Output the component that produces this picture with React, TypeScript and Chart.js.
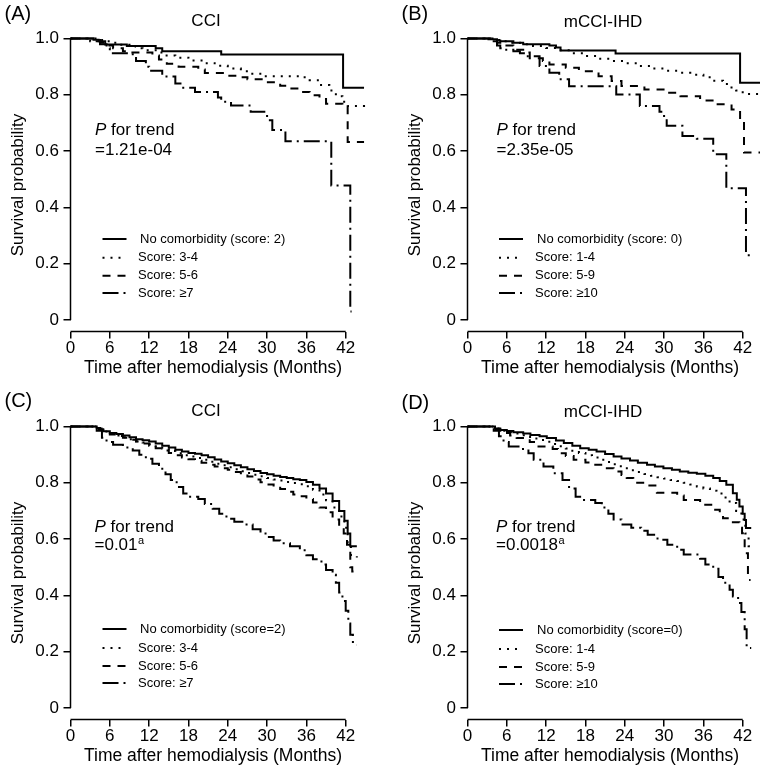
import React, { useEffect, useRef } from "react";
import { Chart, registerables } from "chart.js";

Chart.register(...registerables);

type Pt = [number, number];

// ---------- shared axis content ----------
const X_TICKS = [0, 6, 12, 18, 24, 30, 36, 42];
const Y_TICKS = [0, 0.2, 0.4, 0.6, 0.8, 1.0];
const X_TITLE = "Time after hemodialysis (Months)";
const Y_TITLE = "Survival probability";
const X_MAX = 43.5;

// ---------- Panel A: CCI ----------
const A_LABELS = ["No comorbidity (score: 2)", "Score: 3-4", "Score: 5-6", "Score: \u22657"];
const A_NONE: Pt[] = [[0, 1], [3.5, 0.996], [4.3, 0.99], [5.3, 0.979], [8.6, 0.973], [13, 0.965], [14, 0.955], [23, 0.943], [41.6, 0.825], [44.8, 0.825]];
const A_S34: Pt[] = [[0, 1], [4, 0.995], [5, 0.99], [6, 0.985], [7, 0.978], [9, 0.972], [10, 0.965], [11, 0.958], [13, 0.95], [14.5, 0.94], [16, 0.932], [18, 0.922], [20, 0.912], [22, 0.903], [24, 0.893], [26, 0.884], [27.5, 0.875], [29.5, 0.866], [35, 0.862], [36.5, 0.852], [38, 0.835], [39.5, 0.815], [40.5, 0.795], [41.5, 0.775], [42.3, 0.76], [44.8, 0.752]];
const A_S56: Pt[] = [[0, 1], [3.5, 0.995], [4.5, 0.985], [5.5, 0.975], [6.5, 0.965], [8, 0.955], [9, 0.95], [12.5, 0.94], [13.5, 0.925], [14.7, 0.91], [16.5, 0.9], [19.5, 0.89], [20.5, 0.877], [23.5, 0.868], [26, 0.862], [27, 0.855], [29.5, 0.845], [32, 0.832], [33.5, 0.822], [35.5, 0.81], [36.5, 0.798], [38, 0.785], [39, 0.768], [41.5, 0.757], [42.3, 0.632], [44.8, 0.632]];
const A_S7: Pt[] = [[0, 1], [3, 0.99], [4.5, 0.98], [5.5, 0.965], [6, 0.948], [9.5, 0.935], [10, 0.92], [11.5, 0.9], [12, 0.885], [14, 0.865], [16, 0.84], [17, 0.825], [19, 0.81], [22.5, 0.79], [23, 0.775], [24.5, 0.762], [27.5, 0.74], [30, 0.71], [30.8, 0.675], [32.8, 0.635], [39.8, 0.478], [42.7, 0.03], [42.9, 0.03]];

// ---------- Panel B: mCCI-IHD ----------
const B_LABELS = ["No comorbidity (score: 0)", "Score: 1-4", "Score: 5-9", "Score: \u226510"];
const B_NONE: Pt[] = [[0, 1], [3.2, 0.997], [4.5, 0.993], [5, 0.99], [7, 0.985], [8.5, 0.98], [12.5, 0.975], [13.5, 0.968], [14.2, 0.957], [22.6, 0.947], [41.6, 0.843], [44.8, 0.843]];
const B_S14: Pt[] = [[0, 1], [4, 0.995], [5, 0.99], [6.5, 0.985], [8, 0.98], [10, 0.973], [12, 0.966], [14, 0.958], [16, 0.948], [18, 0.938], [20, 0.928], [22, 0.92], [24, 0.912], [26, 0.902], [28, 0.893], [30, 0.885], [32, 0.878], [34, 0.871], [36, 0.862], [37.5, 0.85], [39, 0.838], [40, 0.826], [41, 0.815], [42, 0.803], [44.8, 0.8]];
const B_S59: Pt[] = [[0, 1], [3.5, 0.995], [4.5, 0.985], [5.5, 0.975], [7, 0.96], [8.5, 0.95], [9.5, 0.93], [11.5, 0.92], [12.5, 0.908], [15, 0.896], [17, 0.884], [20, 0.866], [22, 0.849], [23.5, 0.831], [27, 0.819], [30.5, 0.807], [32.5, 0.795], [35.5, 0.78], [38, 0.766], [40.3, 0.748], [41.6, 0.707], [42.2, 0.595], [44.8, 0.595]];
const B_S10: Pt[] = [[0, 1], [3.5, 0.99], [4.5, 0.975], [5, 0.965], [5.5, 0.96], [7, 0.955], [8, 0.948], [9, 0.937], [11, 0.902], [12.5, 0.878], [14, 0.855], [15.5, 0.83], [22.7, 0.801], [26.3, 0.76], [29.3, 0.74], [30, 0.72], [30.4, 0.69], [32.8, 0.654], [35, 0.644], [37.5, 0.589], [39.5, 0.468], [42.5, 0.23], [43.6, 0.23]];

// ---------- Panel C: CCI ----------
const C_LABELS = ["No comorbidity (score=2)", "Score: 3-4", "Score: 5-6", "Score: \u22657"];
const C_NONE: Pt[] = [[0, 1], [3.4, 1], [4, 0.995], [4.5, 0.988], [5, 0.983], [6, 0.977], [7, 0.973], [8, 0.968], [9, 0.962], [10, 0.955], [11, 0.951], [12, 0.947], [13, 0.94], [14, 0.932], [15, 0.925], [16, 0.917], [17, 0.911], [18, 0.906], [19, 0.903], [20, 0.898], [21, 0.891], [22, 0.883], [23, 0.876], [24, 0.869], [25, 0.862], [26, 0.855], [27, 0.848], [28, 0.842], [29, 0.835], [30, 0.83], [31, 0.825], [32, 0.821], [33, 0.817], [34, 0.813], [35, 0.81], [36, 0.803], [37, 0.793], [38, 0.78], [39, 0.762], [40, 0.735], [41, 0.7], [41.8, 0.665], [42.3, 0.62], [42.7, 0.575], [43.7, 0.575]];
const C_S34: Pt[] = [[0, 1], [3.5, 1], [4, 0.993], [5, 0.982], [6, 0.975], [7, 0.968], [8, 0.962], [9, 0.955], [10, 0.948], [11, 0.943], [12, 0.937], [13, 0.93], [14, 0.922], [15, 0.913], [16, 0.905], [17, 0.898], [18, 0.893], [19, 0.888], [20, 0.882], [21, 0.875], [22, 0.868], [23, 0.862], [24, 0.855], [25, 0.848], [26, 0.841], [27, 0.835], [28, 0.829], [29, 0.823], [30, 0.817], [31, 0.812], [32, 0.808], [33, 0.803], [34, 0.799], [35, 0.795], [36, 0.788], [37, 0.775], [38, 0.758], [39, 0.738], [40, 0.712], [41, 0.68], [41.8, 0.64], [42.3, 0.58], [42.8, 0.54], [43.7, 0.535]];
const C_S56: Pt[] = [[0, 1], [3.5, 1], [4, 0.99], [5, 0.98], [6, 0.972], [7, 0.966], [8, 0.96], [9, 0.953], [10, 0.947], [11, 0.94], [12, 0.932], [13, 0.923], [14, 0.915], [15, 0.906], [16, 0.898], [17, 0.89], [18, 0.884], [19, 0.878], [20, 0.871], [21, 0.864], [22, 0.858], [23, 0.852], [24, 0.846], [25, 0.838], [26, 0.83], [27, 0.822], [28, 0.812], [29, 0.802], [30, 0.794], [31, 0.786], [32, 0.778], [33, 0.768], [34, 0.758], [35, 0.752], [36, 0.742], [37, 0.73], [38, 0.712], [39, 0.695], [40, 0.67], [41, 0.64], [41.7, 0.62], [42.2, 0.58], [42.7, 0.5], [43, 0.485], [43.7, 0.485]];
const C_S7: Pt[] = [[0, 1], [3.4, 1], [4, 0.985], [4.8, 0.96], [5.5, 0.945], [6.5, 0.935], [8, 0.925], [9.5, 0.915], [10.5, 0.9], [11.5, 0.885], [12.5, 0.868], [13.5, 0.85], [14.5, 0.83], [15.3, 0.81], [16.2, 0.785], [17.2, 0.762], [18, 0.75], [19.5, 0.742], [20.5, 0.725], [21.7, 0.708], [22.7, 0.69], [23.8, 0.672], [25, 0.662], [26.5, 0.652], [27.8, 0.635], [29, 0.62], [30, 0.607], [31, 0.595], [32, 0.585], [33.5, 0.575], [35, 0.56], [36, 0.543], [37, 0.528], [38.3, 0.51], [39, 0.49], [40, 0.473], [40.5, 0.445], [41, 0.41], [41.5, 0.38], [42, 0.345], [42.4, 0.3], [42.7, 0.26], [43.1, 0.224], [43.6, 0.224]];

// ---------- Panel D: mCCI-IHD ----------
const D_LABELS = ["No comorbidity (score=0)", "Score: 1-4", "Score: 5-9", "Score: \u226510"];
const D_NONE: Pt[] = [[0, 1], [3.5, 1], [4.2, 0.993], [5, 0.988], [6, 0.984], [7, 0.98], [8.5, 0.975], [9.6, 0.97], [11, 0.965], [12.1, 0.959], [13.5, 0.95], [14.7, 0.941], [16, 0.932], [17.2, 0.923], [18.5, 0.917], [19.7, 0.911], [21, 0.902], [22.3, 0.893], [23.5, 0.886], [24.8, 0.879], [26, 0.871], [27.4, 0.864], [28.6, 0.858], [29.9, 0.852], [31.2, 0.846], [32.4, 0.84], [33.7, 0.836], [35, 0.832], [36.3, 0.825], [37.5, 0.817], [38.5, 0.806], [39.5, 0.793], [40.5, 0.763], [41.1, 0.74], [41.5, 0.716], [42, 0.69], [42.3, 0.668], [42.5, 0.639], [43.3, 0.639]];
const D_S14: Pt[] = [[0, 1], [3.5, 1], [4, 0.993], [5, 0.985], [6, 0.98], [7, 0.975], [8, 0.969], [9, 0.963], [10, 0.957], [11, 0.952], [12, 0.946], [13, 0.938], [14, 0.93], [15, 0.922], [16, 0.914], [17, 0.906], [18, 0.898], [19, 0.89], [20, 0.882], [21, 0.874], [22, 0.866], [23, 0.859], [24, 0.852], [25, 0.845], [26, 0.838], [27, 0.831], [28, 0.825], [29, 0.82], [30, 0.815], [31, 0.81], [32, 0.806], [33, 0.8], [34, 0.794], [35, 0.787], [36, 0.78], [37, 0.772], [38, 0.762], [39, 0.748], [40, 0.728], [41, 0.7], [41.8, 0.67], [42.4, 0.62], [42.9, 0.575], [43.3, 0.575]];
const D_S59: Pt[] = [[0, 1], [3.5, 1], [4, 0.99], [5, 0.977], [6.5, 0.968], [7.5, 0.959], [9.5, 0.945], [10.5, 0.929], [13, 0.92], [13.8, 0.905], [15, 0.895], [16.2, 0.882], [18, 0.872], [19.5, 0.864], [21, 0.852], [22.3, 0.84], [23.5, 0.828], [24.3, 0.817], [25.3, 0.8], [27.5, 0.79], [28.9, 0.765], [32, 0.755], [33, 0.739], [35.5, 0.722], [37.5, 0.704], [38.5, 0.69], [39, 0.674], [40.5, 0.66], [41.5, 0.64], [41.9, 0.621], [42.3, 0.55], [42.8, 0.455], [43.2, 0.455]];
const D_S10: Pt[] = [[0, 1], [3.5, 1], [4, 0.985], [4.8, 0.965], [5.5, 0.945], [6.3, 0.929], [8, 0.92], [9.3, 0.905], [10.1, 0.882], [11.6, 0.858], [13.1, 0.834], [14.5, 0.81], [15.5, 0.78], [16.5, 0.75], [17.5, 0.739], [19.5, 0.728], [20.5, 0.712], [21.5, 0.69], [22.3, 0.67], [23.5, 0.652], [25, 0.64], [26.5, 0.63], [27.5, 0.615], [29, 0.598], [30.5, 0.58], [32, 0.562], [33, 0.545], [35.5, 0.53], [36.3, 0.51], [37.5, 0.495], [38.3, 0.465], [39, 0.445], [40, 0.42], [40.5, 0.396], [41.3, 0.373], [41.8, 0.341], [42.3, 0.28], [42.6, 0.213], [43.3, 0.213]];

// ---------- styling ----------
const FONT = "'Liberation Sans', Arial, Helvetica, sans-serif";
const DASHES: number[][] = [[], [2, 6], [8, 7], [16, 5, 2, 5]];
const CANVAS_W = 397;
const CANVAS_H = 388;

interface PanelDef {
  letter: string;
  title: string;
  pValue: string;
  pSup: string;
  labels: string[];
  series: Pt[][];
  left: number;
  top: number;
  pX: number;
  pY1: number;
  pY2: number;
  titleY: number;
  letterY: number;
  legendY: number[];
  legendX: number;
}

const PANELS: PanelDef[] = [
  { letter: "(A)", title: "CCI", pValue: "=1.21e-04", pSup: "", labels: A_LABELS, series: [A_NONE, A_S34, A_S56, A_S7], left: 0, top: 0, pX: 95, pY1: 135, pY2: 155, titleY: 21.5, letterY: 14.5, legendY: [239, 257.7, 275.7, 293], legendX: 102.5 },
  { letter: "(B)", title: "mCCI-IHD", pValue: "=2.35e-05", pSup: "", labels: B_LABELS, series: [B_NONE, B_S14, B_S59, B_S10], left: 397, top: 0, pX: 99.5, pY1: 135, pY2: 155, titleY: 22, letterY: 14, legendY: [239, 257.7, 275.7, 293], legendX: 102 },
  { letter: "(C)", title: "CCI", pValue: "=0.01", pSup: "a", labels: C_LABELS, series: [C_NONE, C_S34, C_S56, C_S7], left: 0, top: 388, pX: 94.5, pY1: 143.7, pY2: 162, titleY: 23.5, letterY: 13, legendY: [241, 260, 278, 295], legendX: 102.5 },
  { letter: "(D)", title: "mCCI-IHD", pValue: "=0.0018", pSup: "a", labels: D_LABELS, series: [D_NONE, D_S14, D_S59, D_S10], left: 397, top: 388, pX: 99, pY1: 143.7, pY2: 162, titleY: 24, letterY: 15, legendY: [242, 261, 279, 296], legendX: 102 },
];

function makeDecorPlugin(p: PanelDef) {
  return {
    id: "panelDecor",
    afterDraw(chart: any) {
      const { ctx, chartArea } = chart;
      const xs = chart.scales.x;
      const ys = chart.scales.y;
      ctx.save();
      // axis lines spanning the first to last tick (R style)
      ctx.strokeStyle = "#000";
      ctx.lineWidth = 1.5;
      ctx.setLineDash([]);
      ctx.beginPath();
      ctx.moveTo(xs.getPixelForValue(X_TICKS[0]), chartArea.bottom);
      ctx.lineTo(xs.getPixelForValue(X_TICKS[X_TICKS.length - 1]), chartArea.bottom);
      ctx.moveTo(chartArea.left, ys.getPixelForValue(Y_TICKS[0]));
      ctx.lineTo(chartArea.left, ys.getPixelForValue(Y_TICKS[Y_TICKS.length - 1]));
      ctx.stroke();

      ctx.fillStyle = "#000";
      // panel letter
      ctx.font = `20px ${FONT}`;
      ctx.textAlign = "left";
      ctx.textBaseline = "middle";
      ctx.fillText(p.letter, 4.5, p.letterY);
      // title
      ctx.font = `17px ${FONT}`;
      ctx.textAlign = "center";
      ctx.fillText(p.title, 206, p.titleY);

      // P for trend
      ctx.textAlign = "left";
      ctx.textBaseline = "alphabetic";
      ctx.font = `italic 17px ${FONT}`;
      ctx.fillText("P", p.pX, p.pY1);
      const pw = ctx.measureText("P").width;
      ctx.font = `17px ${FONT}`;
      ctx.fillText(" for trend", p.pX + pw, p.pY1);
      ctx.fillText(p.pValue, p.pX, p.pY2);
      if (p.pSup) {
        const vw = ctx.measureText(p.pValue).width;
        ctx.font = `11px ${FONT}`;
        ctx.fillText(p.pSup, p.pX + vw + 0.5, p.pY2 - 6.5);
      }

      // legend
      const ds = chart.data.datasets;
      for (let i = 0; i < ds.length; i++) {
        const yy = p.legendY[i];
        ctx.beginPath();
        ctx.lineWidth = 2;
        ctx.setLineDash(ds[i].borderDash || []);
        ctx.moveTo(p.legendX, yy);
        ctx.lineTo(p.legendX + 24, yy);
        ctx.stroke();
        ctx.setLineDash([]);
        ctx.font = `13px ${FONT}`;
        ctx.textBaseline = "middle";
        ctx.fillText(ds[i].label, i === 0 ? 140 : 138, yy);
      }
      ctx.restore();
    },
  };
}

function Panel({ def }: { def: PanelDef }) {
  const ref = useRef<HTMLCanvasElement | null>(null);
  useEffect(() => {
    if (!ref.current) return;
    const tickFont = { family: FONT, size: 17, lineHeight: 1 };
    // 42 months span 275.2px starting at x=70.5
    const pxPerMonth = 275.2 / 42;
    const rightPad = CANVAS_W - (70.5 + X_MAX * pxPerMonth);
    const chart = new Chart(ref.current, {
      type: "line",
      data: {
        datasets: def.series.map((s, i) => ({
          label: def.labels[i],
          data: s.map(([x, y]) => ({ x, y })),
          borderColor: "#000",
          backgroundColor: "#000",
          borderWidth: 2,
          borderDash: DASHES[i],
          borderCapStyle: "butt",
          stepped: "before",
          pointRadius: 0,
          fill: false,
          tension: 0,
          clip: false,
        })),
      } as any,
      options: {
        animation: false,
        responsive: false,
        devicePixelRatio: 1,
        events: [],
        layout: { padding: { left: 0, right: rightPad, top: 38.5, bottom: 6.5 } },
        plugins: {
          legend: { display: false },
          tooltip: { enabled: false },
          title: { display: false },
        },
        scales: {
          x: {
            type: "linear",
            min: 0,
            max: X_MAX,
            afterBuildTicks: (s: any) => {
              s.ticks = X_TICKS.map((v) => ({ value: v }));
            },
            afterFit: (s: any) => {
              s.height = 50;
            },
            grid: { display: true, drawOnChartArea: false, drawTicks: true, tickLength: 7, color: "#000", lineWidth: 1.5 },
            border: { display: false },
            ticks: {
              color: "#000",
              font: tickFont,
              padding: 1.5,
              maxRotation: 0,
              autoSkip: false,
              callback: (v: any) => String(v),
            },
            title: {
              display: true,
              text: X_TITLE,
              color: "#000",
              font: { family: FONT, size: 17.5, lineHeight: 1.2 },
              padding: { top: 0, bottom: 2.5 },
            },
          },
          y: {
            type: "linear",
            min: -0.0409,
            max: 1,
            afterBuildTicks: (s: any) => {
              s.ticks = Y_TICKS.map((v) => ({ value: v }));
            },
            afterFit: (s: any) => {
              s.width = 70.5;
            },
            grid: { display: true, drawOnChartArea: false, drawTicks: true, tickLength: 7, color: "#000", lineWidth: 1.5 },
            border: { display: false },
            ticks: {
              color: "#000",
              font: tickFont,
              padding: 4.5,
              autoSkip: false,
              callback: (v: any) => (Number(v) === 0 ? "0" : Number(v).toFixed(1)),
            },
            title: {
              display: true,
              text: Y_TITLE,
              color: "#000",
              font: { family: FONT, size: 17, lineHeight: 1.2 },
              padding: { top: 7.8, bottom: 0 },
            },
          },
        },
      } as any,
      plugins: [makeDecorPlugin(def)],
    });
    return () => chart.destroy();
  }, [def]);
  return (
    <canvas
      ref={ref}
      width={CANVAS_W}
      height={CANVAS_H}
      style={{ position: "absolute", left: def.left, top: def.top, width: CANVAS_W, height: CANVAS_H, display: "block" }}
    />
  );
}

export default function App() {
  return (
    <div style={{ position: "absolute", left: 0, top: 0, width: 760, height: 773, overflow: "hidden", background: "#fff" }}>
      {PANELS.map((p) => (
        <Panel key={p.letter} def={p} />
      ))}
    </div>
  );
}
